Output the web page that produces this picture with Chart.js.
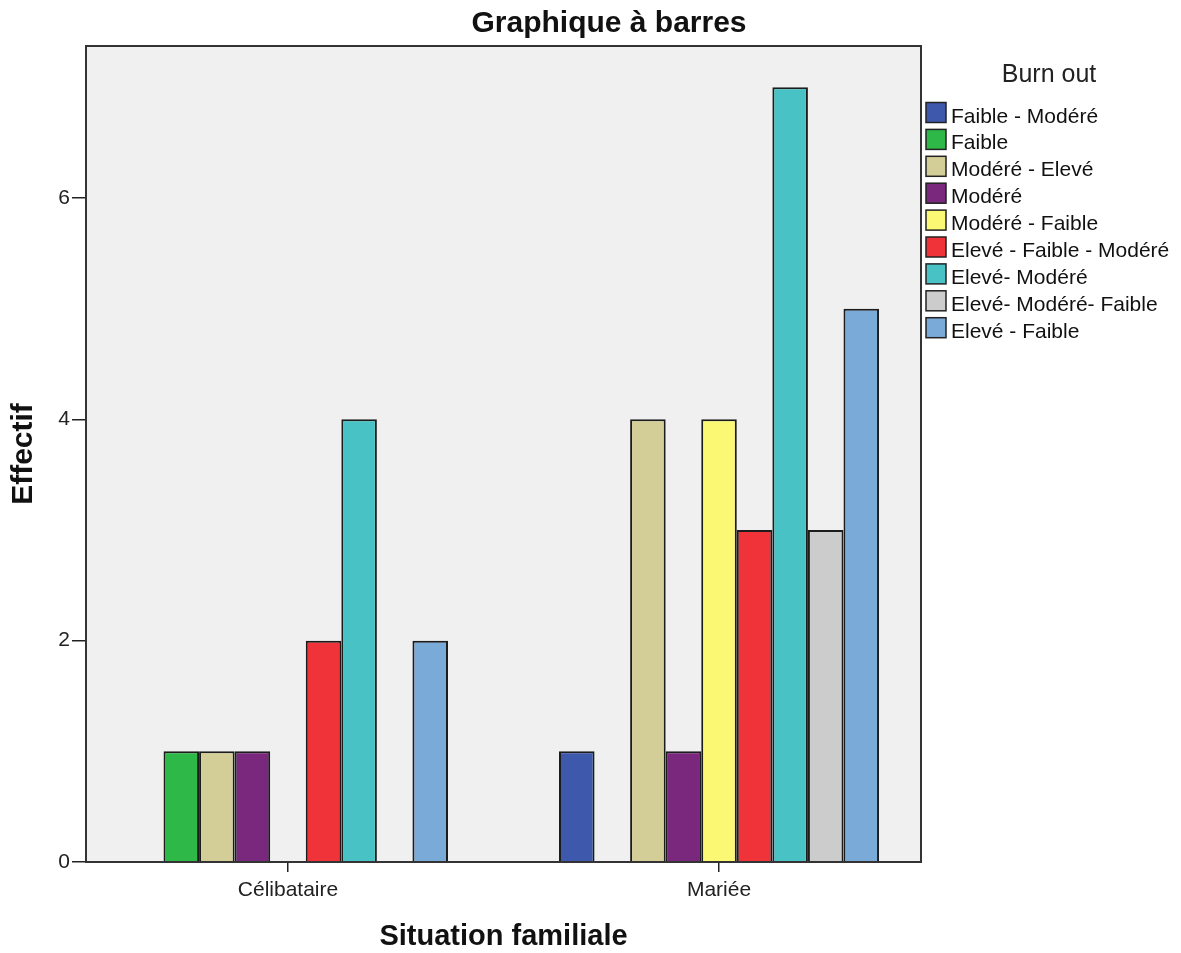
<!DOCTYPE html>
<html>
<head>
<meta charset="utf-8">
<script src="https://cdn.jsdelivr.net/npm/chart.js@4/dist/chart.umd.min.js"></script>
<style>
  body { margin: 0; background: #fff; }
  #wrap { width: 1181px; height: 953px; }
</style>
</head>
<body>
<div id="wrap"><canvas id="chart"></canvas></div>
<script>
const FONT = "'Liberation Sans', Arial, sans-serif"

const categories = ["Célibataire", "Mariée"]
const burnoutLevels = [
  "Faible - Modéré", "Faible", "Modéré - Elevé", "Modéré", "Modéré - Faible",
  "Elevé - Faible - Modéré", "Elevé- Modéré", "Elevé- Modéré- Faible", "Elevé - Faible"
]
// counts per burnout level, one array per situation
const celibataire = [0, 1, 1, 1, 0, 2, 4, 0, 2]
const mariee      = [1, 0, 4, 1, 4, 3, 7, 3, 5]
const levelColors = [
  "#3e58ac", "#2eb848", "#d3ce97", "#79287d", "#fbf873",
  "#ef3338", "#48c2c5", "#cccccc", "#7aaad7"
]
const yTicks = [0, 2, 4, 6]

const bySituation = [celibataire, mariee]

const datasets = burnoutLevels.map((level, i) => ({
  label: level,
  // empty cells are left out instead of drawing a flat bar
  data: categories.map((c, j) => ({x: j, y: bySituation[j][i] || null})),
  backgroundColor: levelColors[i],
  borderColor: "#1c1c1c",
  borderWidth: 2,
  borderSkipped: "bottom",
}))

// grey plot background + box around it
const plotFrame = {
  id: "plotFrame",
  beforeDraw(chart) {
    const {ctx, chartArea: a} = chart
    ctx.save()
    ctx.fillStyle = "#f0f0f0"
    ctx.fillRect(a.left, a.top, a.width, a.height)
    ctx.restore()
  },
  afterDraw(chart) {
    const {ctx, chartArea: a} = chart
    ctx.save()
    ctx.strokeStyle = "#333"
    ctx.lineWidth = 2
    ctx.strokeRect(a.left, a.top, a.width, a.height)
    ctx.restore()
  }
}

// title and SPSS-style legend drawn on the canvas
const sideText = {
  id: "sideText",
  afterDraw(chart) {
    const ctx = chart.ctx
    ctx.save()
    ctx.fillStyle = "#111"
    ctx.textAlign = "center"
    ctx.textBaseline = "alphabetic"
    ctx.font = "bold 30px " + FONT
    ctx.fillText("Graphique à barres", 609, 31.5)

    ctx.font = "25px " + FONT
    ctx.fillStyle = "#222"
    ctx.fillText("Burn out", 1049, 82)

    ctx.textAlign = "left"
    ctx.font = "21px " + FONT
    chart.data.datasets.forEach((ds, i) => {
      const top = 102.5 + i * 26.9
      ctx.fillStyle = ds.backgroundColor
      ctx.fillRect(926, top, 20, 20)
      ctx.strokeStyle = "#222"
      ctx.lineWidth = 1.5
      ctx.strokeRect(926, top, 20, 20)
      ctx.fillStyle = "#111"
      ctx.fillText(ds.label, 951, top + 20)
    })
    ctx.restore()
  }
}

const chart = new Chart("chart", {
  type: "bar",
  data: {datasets},
  options: {
    responsive: true,
    maintainAspectRatio: false,
    animation: false,
    layout: {padding: {top: 46, right: 260, left: 0, bottom: 0}},
    datasets: {bar: {categoryPercentage: 0.7425, barPercentage: 1}},
    plugins: {
      legend: {display: false},
      tooltip: {enabled: false},
      title: {display: false},
    },
    scales: {
      x: {
        type: "linear",
        offset: false,
        min: -0.4686,
        max: 1.4686,
        afterBuildTicks: s => { s.ticks = categories.map((c, j) => ({value: j})) },
        afterFit: s => { s.height = 91 },
        grid: {offset: false, drawOnChartArea: false, tickLength: 10, color: "#222", lineWidth: 1.5},
        border: {display: true, color: "#222", width: 2},
        ticks: {
          callback: v => categories[v],
          color: "#222",
          padding: 6,
          maxRotation: 0,
          font: {family: FONT, size: 21},
        },
        title: {
          display: true,
          text: "Situation familiale",
          color: "#111",
          padding: {bottom: 2},
          font: {family: FONT, size: 29, weight: "bold", lineHeight: 1},
        },
      },
      y: {
        min: 0,
        max: 7.373,
        afterBuildTicks: s => { s.ticks = yTicks.map(v => ({value: v})) },
        afterFit: s => { s.width = 86 },
        grid: {drawOnChartArea: false, tickLength: 14, color: "#222", lineWidth: 1.5},
        border: {display: true, color: "#222", width: 2},
        ticks: {
          color: "#222",
          padding: 2,
          font: {family: FONT, size: 21},
        },
        title: {
          display: true,
          text: "Effectif",
          color: "#111",
          padding: {top: 9},
          font: {family: FONT, size: 30, weight: "bold", lineHeight: 1},
        },
      },
    },
  },
  plugins: [plotFrame, sideText],
})
</script>
</body>
</html>
